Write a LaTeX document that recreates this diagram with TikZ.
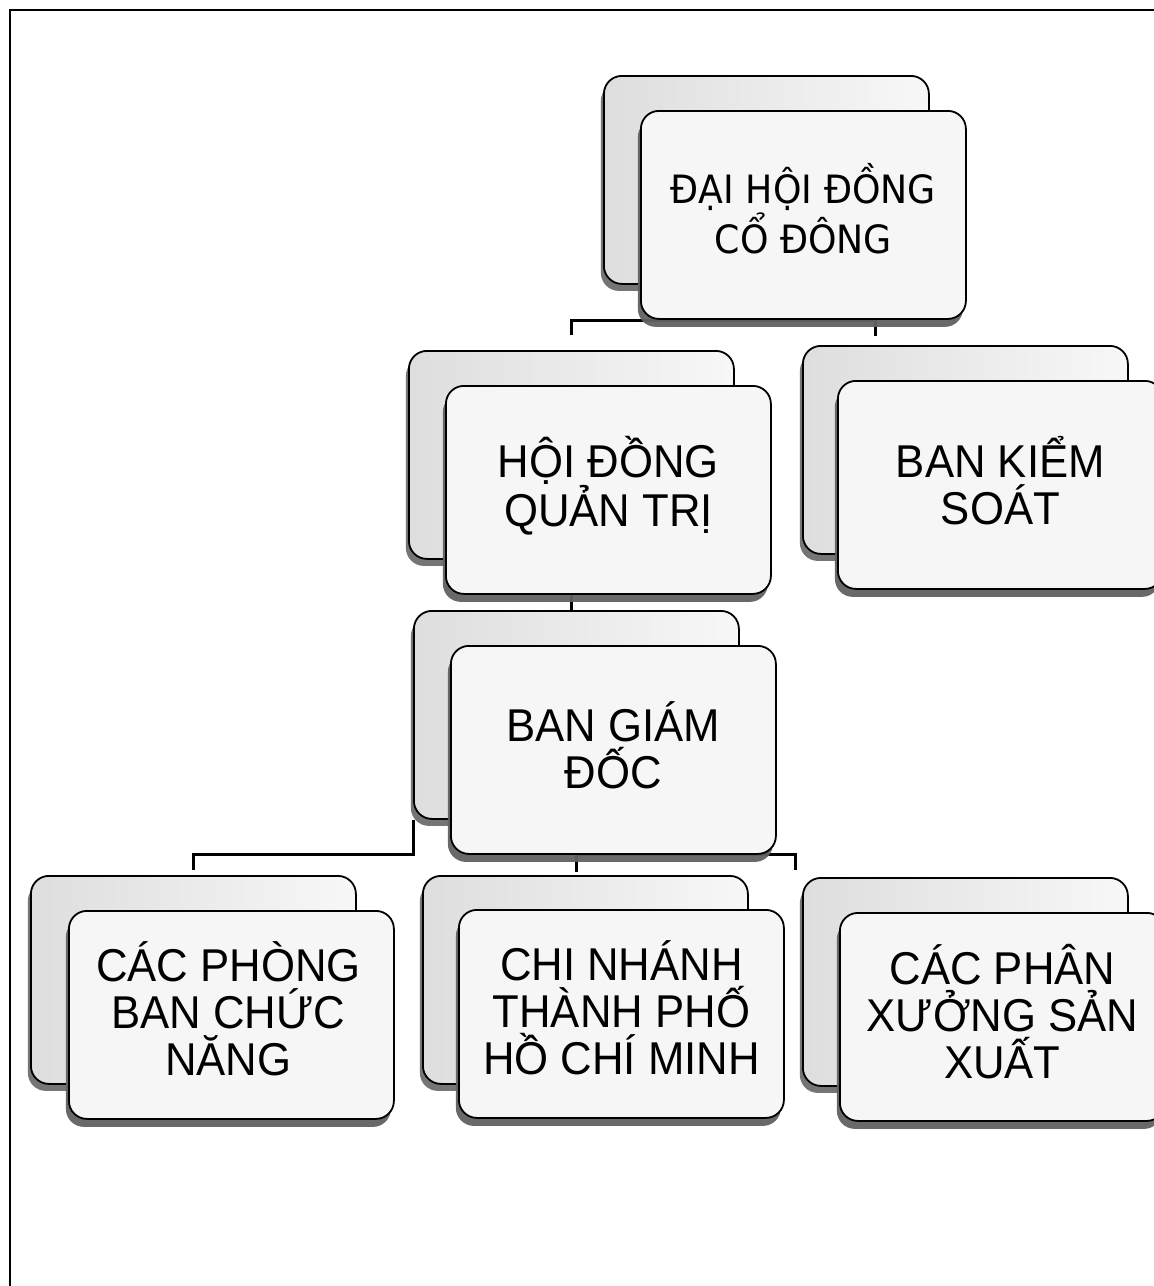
\documentclass[tikz,border=0pt]{standalone}
\usepackage{fontspec}
\setmainfont{Liberation Sans}
\newfontfamily\arfont[FakeStretch=0.95]{Liberation Sans}
\newfontfamily\dvfont[FakeStretch=0.93]{DejaVu Sans}
\usetikzlibrary{shadows,backgrounds,calc}
\begin{document}
\begin{tikzpicture}[x=1pt,y=-1pt,
  box/.style={draw=black, line width=1.8pt, rounded corners=18pt,
    minimum width=325pt, minimum height=208pt, anchor=north west,
    inner sep=0pt},
  backbox/.style={box, left color=gray!26, right color=gray!6,
    drop shadow={shadow xshift=-3pt, shadow yshift=-7pt, fill=black!60, opacity=0.9}},
  frontbox/.style={box, fill=gray!7,
    drop shadow={shadow xshift=-3pt, shadow yshift=-8pt, fill=black!62, opacity=0.95}},
  lbl/.style={align=center, text=black, inner sep=0pt, font=\arfont\fontsize{46}{47}\selectfont},
  lbltop/.style={align=center, text=black, inner sep=0pt, font=\dvfont\fontsize{39}{50}\selectfont}
  ,conn/.style={line width=3pt, draw=black}
]
\useasboundingbox (0,0) rectangle (1154,1286);

% boxes
\node[backbox] (Aback) at (603,75) {};
\node[frontbox] (Afront) at (640,110) {};
\node[lbltop] (Atxt) at ($(Afront.center)+(0,-6)$) {ĐẠI HỘI ĐỒNG\\CỔ ĐÔNG};

\node[backbox] (Bback) at (408,350) {};
\node[frontbox] (Bfront) at (445,385) {};
\node[lbl] (Btxt) at ($(Bfront.center)+(0,-4)$) {HỘI ĐỒNG\\QUẢN TRỊ};

\node[backbox] (Cback) at (802,345) {};
\node[frontbox] (Cfront) at (837,380) {};
\node[lbl] (Ctxt) at ($(Cfront.center)+(0,-4)$) {BAN KIỂM\\SOÁT};

\node[backbox] (Dback) at (413,610) {};
\node[frontbox] (Dfront) at (450,645) {};
\node[lbl] (Dtxt) at ($(Dfront.center)+(0,-5)$) {BAN GIÁM\\ĐỐC};

\node[backbox] (Eback) at (30,875) {};
\node[frontbox] (Efront) at (68,910) {};
\node[lbl] (Etxt) at ($(Efront.center)+(-3,-6)$) {CÁC PHÒNG\\BAN CHỨC\\NĂNG};

\node[backbox] (Fback) at (422,875) {};
\node[frontbox] (Ffront) at (458,909) {};
\node[lbl] (Ftxt) at ($(Ffront.center)+(0,-6)$) {CHI NHÁNH\\THÀNH PHỐ\\HỒ CHÍ MINH};

\node[backbox] (Gback) at (802,877) {};
\node[frontbox] (Gfront) at (839,912) {};
\node[lbl] (Gtxt) at ($(Gfront.center)+(0,-5)$) {CÁC PHÂN\\XƯỞNG SẢN\\XUẤT};

\coordinate (aj) at (570.5,320);
\coordinate (cdrop) at (875,336);
\coordinate (gdrop) at (795,870);

\begin{scope}[on background layer]
  \fill[white] (0,0) rectangle (1154,1286);
  % frame
  \draw[line width=1.4pt] (10,1286) -- (10,10) -- (1154,10);
  % connectors
  \draw[conn] (Afront) -- (Afront |- aj) -| ($(Bback.north)+(0,-15)$);
  \draw[conn] (Afront |- aj) -| (cdrop);
  \draw[conn] (Bback.south) -- (Bback.south |- Dback.north);
  \draw[conn] (Dback.south west) -- ++(0,35) -| ($(Eback.north)+(0,-5)$);
  \draw[conn] (Dback.south) -- ($(Dback.south)+(0,52)$);
  \draw[conn] ($(Dback.south)+(0,35)$) -| (gdrop);
\end{scope}
\end{tikzpicture}
\end{document}
